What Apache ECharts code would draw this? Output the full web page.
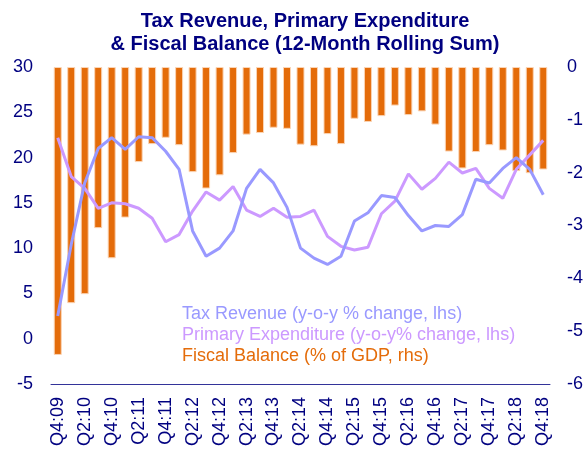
<!DOCTYPE html>
<html>
<head>
<meta charset="utf-8">
<script src="https://cdn.jsdelivr.net/npm/echarts@6/dist/echarts.min.js"></script>
<style>
  html, body { margin: 0; padding: 0; background: #fff; }
  #chart { width: 586px; height: 455px; }
</style>
</head>
<body>
<div id="chart"></div>
<script>
const quarters = [
  "Q4:09", "Q1:10", "Q2:10", "Q3:10", "Q4:10", "Q1:11", "Q2:11", "Q3:11", "Q4:11",
  "Q1:12", "Q2:12", "Q3:12", "Q4:12", "Q1:13", "Q2:13", "Q3:13", "Q4:13",
  "Q1:14", "Q2:14", "Q3:14", "Q4:14", "Q1:15", "Q2:15", "Q3:15", "Q4:15",
  "Q1:16", "Q2:16", "Q3:16", "Q4:16", "Q1:17", "Q2:17", "Q3:17", "Q4:17",
  "Q1:18", "Q2:18", "Q3:18", "Q4:18",
];

// y-o-y % change, lhs
const taxRevenue = [
  2.5, 10.4, 17.2, 21.0, 22.2, 20.9, 22.3, 22.2, 20.7,
  18.7, 11.9, 9.1, 10.0, 11.9, 16.6, 18.7, 17.2,
  14.5, 10.0, 8.9, 8.2, 9.1, 13.0, 13.9, 15.8,
  15.6, 13.6, 11.9, 12.5, 12.4, 13.7, 17.6, 17.2,
  18.8, 20.0, 18.7, 15.9,
];

// y-o-y % change, lhs
const primaryExpenditure = [
  22.2, 17.9, 16.6, 14.4, 15.0, 14.9, 14.4, 13.3, 10.7,
  11.5, 14.1, 16.2, 15.3, 16.8, 14.2, 13.5, 14.4,
  13.4, 13.5, 14.2, 11.3, 10.2, 9.8, 10.1, 13.8,
  15.2, 18.2, 16.5, 17.7, 19.5, 18.3, 18.8, 16.6,
  15.5, 18.7, 20.3, 21.9,
];

// % of GDP, rhs
const fiscalBalance = [
  -5.45, -4.47, -4.3, -3.05, -3.62, -2.85, -1.8, -1.46, -1.34,
  -1.48, -1.99, -2.3, -2.05, -1.63, -1.28, -1.25, -1.15,
  -1.17, -1.47, -1.5, -1.27, -1.46, -0.98, -1.04, -0.93,
  -0.73, -0.91, -0.84, -1.09, -1.6, -1.92, -1.61, -1.48,
  -1.58, -1.97, -2.01, -1.94,
];

const navy = "#000080";
const font = "Liberation Sans, Arial, sans-serif";

const chart = echarts.init(document.getElementById("chart"));

chart.setOption({
  animation: false,
  textStyle: { fontFamily: font },
  title: {
    text: "Tax Revenue, Primary Expenditure\n& Fiscal Balance (12-Month Rolling Sum)",
    left: 300,
    textAlign: "center",
    top: 5,
    textStyle: { color: navy, fontSize: 20, fontWeight: "bold", lineHeight: 23 },
  },
  legend: {
    orient: "vertical",
    left: 172,
    top: 300,
    icon: "none",
    itemWidth: 0,
    itemHeight: 18,
    itemGap: 3,
    selectedMode: false,
    textStyle: { fontSize: 18 },
    data: [
      { name: "Tax Revenue (y-o-y % change, lhs)", textStyle: { color: "#9999FF" } },
      { name: "Primary Expenditure (y-o-y% change, lhs)", textStyle: { color: "#CC99FF" } },
      { name: "Fiscal Balance (% of GDP, rhs)", textStyle: { color: "#E46C0A" } },
    ],
  },
  grid: { left: 51, right: 36, top: 67, bottom: 71 },
  xAxis: {
    type: "category",
    data: quarters,
    axisLine: { onZero: false, lineStyle: { color: "#333399", width: 1 } },
    axisTick: { interval: 0, length: 5, lineStyle: { color: "#333399" } },
    axisLabel: {
      interval: 1,
      rotate: 90,
      color: navy,
      fontSize: 18,
      margin: 13,
    },
  },
  yAxis: [
    {
      type: "value",
      min: -5,
      max: 30,
      interval: 5,
      axisLine: { show: false },
      axisTick: { show: false },
      splitLine: { show: false },
      axisLabel: { color: navy, fontSize: 18, margin: 18 },
    },
    {
      type: "value",
      min: -6,
      max: 0,
      interval: 1,
      position: "right",
      axisLine: { show: false },
      axisTick: { show: false },
      splitLine: { show: false },
      axisLabel: { color: navy, fontSize: 18, margin: 17 },
    },
  ],
  series: [
    {
      name: "Fiscal Balance (% of GDP, rhs)",
      type: "bar",
      yAxisIndex: 1,
      data: fiscalBalance,
      barWidth: 8,
      itemStyle: { color: "#E46C0A", borderColor: "#FBD4B4", borderWidth: 1 },
      z: 1,
    },
    {
      name: "Primary Expenditure (y-o-y% change, lhs)",
      type: "line",
      data: primaryExpenditure,
      showSymbol: false,
      lineStyle: { color: "#CC99FF", width: 3 },
      itemStyle: { color: "#CC99FF" },
      z: 3,
    },
    {
      name: "Tax Revenue (y-o-y % change, lhs)",
      type: "line",
      data: taxRevenue,
      showSymbol: false,
      lineStyle: { color: "#9999FF", width: 3 },
      itemStyle: { color: "#9999FF" },
      z: 4,
    },
  ],
});

window.addEventListener("resize", () => chart.resize());
</script>
</body>
</html>
